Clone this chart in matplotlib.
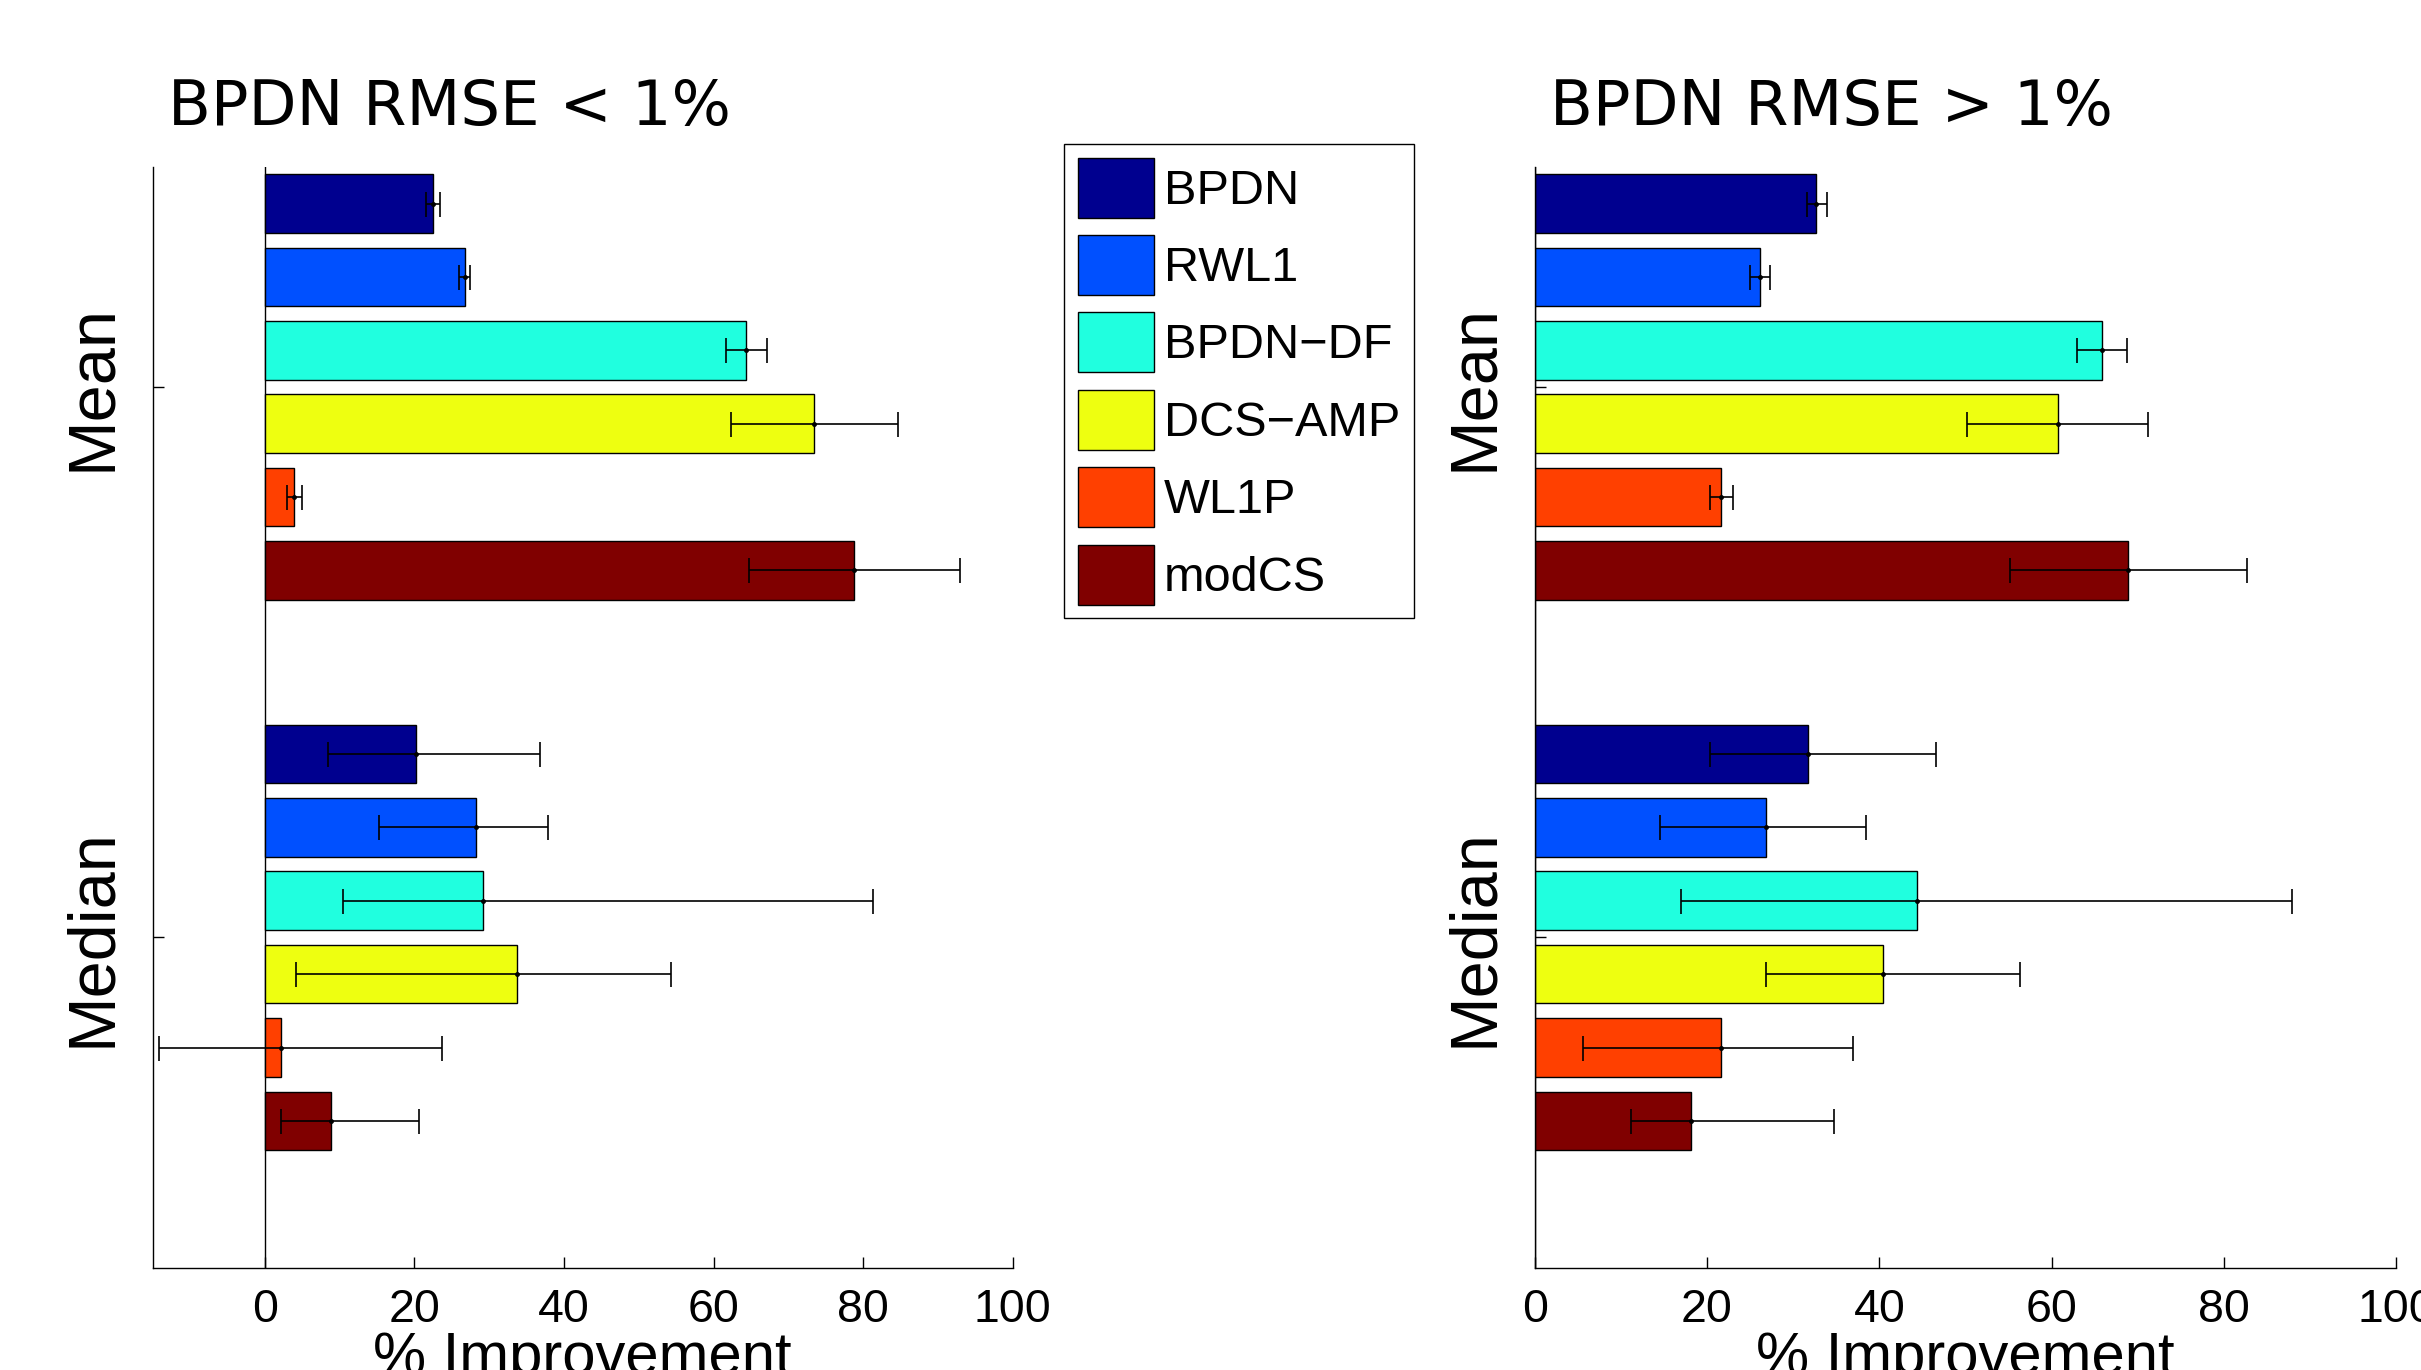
import numpy as np
import matplotlib.pyplot as plt
import matplotlib.transforms as mtransforms
from matplotlib.patches import Patch

methods = ['BPDN', 'RWL1', 'BPDN\u2212DF', 'DCS\u2212AMP', 'WL1P', 'modCS']
colors = ['#00008F', '#0050FF', '#20FFDF', '#EEFF10', '#FF4000', '#800000']
groups = ['Mean', 'Median']

# BPDN RMSE < 1%
low_mean = [22.5, 26.7, 64.4, 73.4, 3.9, 78.8]
low_mean_lo = [21.6, 26.0, 61.6, 62.3, 3.0, 64.7]
low_mean_hi = [23.4, 27.4, 67.2, 84.6, 4.9, 92.9]
low_med = [20.2, 28.2, 29.1, 33.7, 2.1, 8.9]
low_med_lo = [8.4, 15.3, 10.4, 4.2, -14.1, 2.2]
low_med_hi = [36.8, 37.9, 81.3, 54.3, 23.7, 20.6]

# BPDN RMSE > 1%
high_mean = [32.7, 26.1, 65.9, 60.7, 21.6, 68.9]
high_mean_lo = [31.6, 25.0, 62.9, 50.2, 20.3, 55.2]
high_mean_hi = [33.9, 27.3, 68.8, 71.2, 23.0, 82.7]
high_med = [31.7, 26.8, 44.4, 40.4, 21.6, 18.1]
high_med_lo = [20.4, 14.5, 17.0, 26.9, 5.6, 11.2]
high_med_hi = [46.6, 38.4, 87.9, 56.3, 37.0, 34.7]

xticks = [0, 20, 40, 60, 80, 100]

sans = ['Liberation Sans', 'DejaVu Sans']

fig = plt.figure(figsize=(24.21, 13.70), dpi=100)
ax1 = fig.add_axes([0.0631, 0.0747, 0.3552, 0.8035])
ax2 = fig.add_axes([0.6339, 0.0747, 0.3559, 0.8035])


def draw(ax, data, title, xlim):
    n = len(methods)
    w = 0.8 / n
    for gi, (v, lo, hi) in enumerate(data):
        for i in range(n):
            y = gi + 1 + (i - (n - 1) / 2) * w
            ax.barh(y, v[i], height=w * 0.8, color=colors[i],
                    edgecolor='black', linewidth=1.0, zorder=2)
            ax.errorbar(v[i], y, xerr=[[v[i] - lo[i]], [hi[i] - v[i]]],
                        fmt='.', color='black', ms=5, capsize=9,
                        elinewidth=1.2, capthick=1.2, zorder=3)
    ax.axvline(0, color='black', lw=1.0, zorder=1)
    ax.set_xlim(*xlim)
    ax.set_ylim(2.6, 0.6)
    ax.set_yticks([1, 2])
    ax.set_yticklabels(groups, rotation=90, va='center',
                       fontsize=48, family=sans)
    # nudge the rotated group labels up a little
    offset = mtransforms.ScaledTranslation(0, 5 / 72, fig.dpi_scale_trans)
    for lab in ax.get_yticklabels():
        lab.set_transform(lab.get_transform() + offset)
    ax.set_xticks(xticks)
    ax.set_xticklabels([str(t) for t in xticks], fontsize=33.5, family=sans)
    ax.tick_params(axis='both', direction='in', length=7.7, width=1.0)
    ax.tick_params(axis='x', pad=14.5)
    ax.tick_params(axis='y', pad=21)
    for s in ['top', 'right']:
        ax.spines[s].set_visible(False)
    for s in ['left', 'bottom']:
        ax.spines[s].set_linewidth(1.0)
    ax.set_xlabel('% Improvement', fontsize=43, family=sans)
    ax.xaxis.set_label_coords(0.5, -0.0575)
    ax.text(0.0176, 1.0376, title, transform=ax.transAxes, fontsize=45,
            family='DejaVu Sans', ha='left', va='baseline')


draw(ax1, [(low_mean, low_mean_lo, low_mean_hi),
           (low_med, low_med_lo, low_med_hi)], 'BPDN RMSE < 1%', (-15, 100))
draw(ax2, [(high_mean, high_mean_lo, high_mean_hi),
           (high_med, high_med_lo, high_med_hi)], 'BPDN RMSE > 1%', (0, 100))

handles = [Patch(facecolor=c, edgecolor='black', linewidth=1.0) for c in colors]
leg = fig.legend(handles, methods, loc='upper left',
                 bbox_to_anchor=(0.4395, 0.8949), borderaxespad=0,
                 prop={'family': sans, 'size': 35},
                 handlelength=1.58, handleheight=1.52, labelspacing=0.36,
                 handletextpad=0.2, borderpad=0.28, fancybox=False,
                 framealpha=1, edgecolor='black')
leg.get_frame().set_linewidth(1.0)

fig.savefig('out.png', dpi=100)
